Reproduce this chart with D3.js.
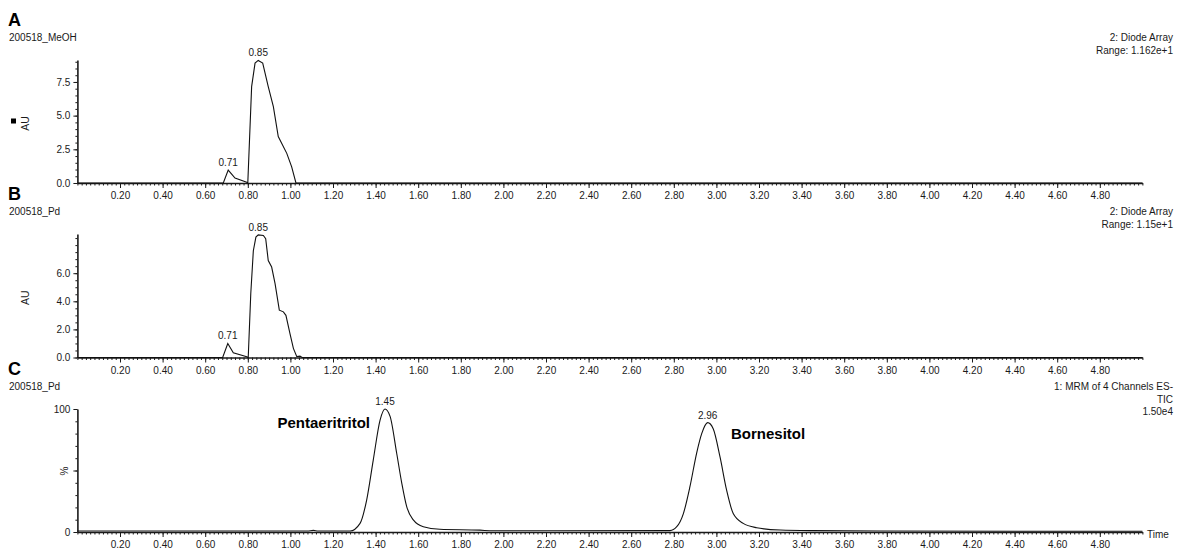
<!DOCTYPE html>
<html>
<head>
<meta charset="utf-8">
<script src="https://cdn.jsdelivr.net/npm/d3@7"></script>
<style>
  body { margin: 0; background: #fff; }
  svg { font-family: 'Liberation Sans', Arial, sans-serif; }
</style>
</head>
<body>
<svg id="chart" width="1180" height="554"></svg>
<script>
// retention times (min) and intensities
const timesA = [0, 0.685, 0.708, 0.740, 0.795, 0.800, 0.818, 0.834, 0.849, 0.870, 0.896, 0.920, 0.943, 0.983, 1.006, 1.026, 5.0];
const valuesA = [0, 0, 0.96, 0.37, 0.05, 0, 7.15, 8.9, 9.1, 8.9, 7.15, 5.67, 3.45, 2.2, 1.2, 0, 0];

const timesB = [0, 0.682, 0.706, 0.732, 0.795, 0.802, 0.814, 0.826, 0.838, 0.849, 0.873, 0.884, 0.896, 0.912, 0.928, 0.948, 0.967, 0.979, 0.998, 1.014, 1.030, 1.045, 1.055, 5.0];
const valuesB = [0, 0, 1.0, 0.34, 0.06, 0, 4.55, 7.6, 8.57, 8.73, 8.69, 8.45, 6.9, 6.44, 5.26, 3.37, 3.25, 3.0, 1.7, 0.65, 0.06, 0.1, 0, 0];

const timesC = [0, 1.08, 1.108, 1.13, 1.28, 1.327, 1.358, 1.389, 1.421, 1.444, 1.468, 1.499, 1.523, 1.546, 1.577, 1.624, 1.702, 1.89, 1.95,
  2.782, 2.814, 2.845, 2.876, 2.907, 2.931, 2.959, 2.985, 3.017, 3.048, 3.079, 3.126, 3.189, 3.30, 3.45, 3.77, 5.0];
const valuesC = [0.8, 0.8, 1.3, 0.8, 0.8, 7, 26, 58.5, 91, 100, 94, 64, 39.6, 20.6, 9.8, 4.3, 2.2, 1.5, 1.0,
  1.1, 4.3, 15, 37, 64, 80, 88.9, 84, 61, 34, 15, 7, 3.5, 1.6, 1.1, 0.8, 0.6];

const xTickValues = [0.2, 0.4, 0.6, 0.8, 1.0, 1.2, 1.4, 1.6, 1.8, 2.0, 2.2, 2.4, 2.6, 2.8, 3.0, 3.2, 3.4, 3.6, 3.8, 4.0, 4.2, 4.4, 4.6, 4.8];
const yTicksA = [0, 2.5, 5.0, 7.5];
const yTicksB = [0, 2, 4, 6];
const yTicksC = [0, 50, 100];

const peaksA = [{t: 0.708, v: 0.96, label: '0.71'}, {t: 0.849, v: 9.1, label: '0.85'}];
const peaksB = [{t: 0.706, v: 1.0, label: '0.71'}, {t: 0.849, v: 8.73, label: '0.85'}];
const peaksC = [{t: 1.444, v: 100, label: '1.45'}, {t: 2.959, v: 88.9, label: '2.96'}];

const panels = [
  {letter: 'A', sample: '200518_MeOH', info: ['2: Diode Array', 'Range: 1.162e+1'], yLabel: 'AU', square: true,
   times: timesA, values: valuesA, peaks: peaksA, yMax: 9.13, yTicks: yTicksA, yMinor: 0.5, fmt: '.1f',
   top: 60, bottom: 183, curve: d3.curveLinear},
  {letter: 'B', sample: '200518_Pd', info: ['2: Diode Array', 'Range: 1.15e+1'], yLabel: 'AU', square: false,
   times: timesB, values: valuesB, peaks: peaksB, yMax: 8.79, yTicks: yTicksB, yMinor: 0.5, fmt: '.1f',
   top: 234, bottom: 357.5, curve: d3.curveLinear},
  {letter: 'C', sample: '200518_Pd', info: ['1: MRM of 4 Channels ES-', 'TIC', '1.50e4'], yLabel: '%', square: false,
   times: timesC, values: valuesC, peaks: peaksC, yMax: 100, yTicks: yTicksC, yMinor: 10, fmt: 'd',
   top: 409, bottom: 532, curve: d3.curveMonotoneX}
];

const svg = d3.select('#chart');
const ink = '#1a1a1a';

const x = d3.scaleLinear().domain([0, 5.0]).range([77.4, 1142.4]);

panels.forEach(p => {
  const y = d3.scaleLinear().domain([0, p.yMax]).range([p.bottom, p.top]);
  const g = svg.append('g');

  // panel letter + sample name
  g.append('text')
    .attr('x', 8).attr('y', p.top - 34)
    .style('font-size', '18px').style('font-weight', 'bold')
    .attr('fill', '#000')
    .text(p.letter);

  g.append('text')
    .attr('x', 9).attr('y', p.top - 19)
    .style('font-size', '10px')
    .attr('fill', ink)
    .text(p.sample);

  // right-hand info block
  p.info.forEach((s, i) => {
    g.append('text')
      .attr('x', 1173).attr('y', p.top - 19 + i * 12.5)
      .attr('text-anchor', 'end')
      .style('font-size', '10px')
      .attr('fill', ink)
      .text(s);
  });

  // x axis: minor ticks then major ticks
  const minor = d3.range(0, 5.001, 0.02);
  const xMinor = g.append('g')
    .attr('transform', `translate(0, ${p.bottom})`)
    .call(d3.axisBottom(x).tickValues(minor).tickSize(2.5).tickFormat(''));
  xMinor.select('.domain').remove();
  xMinor.selectAll('line').attr('stroke', ink);

  const xMajor = g.append('g')
    .attr('transform', `translate(0, ${p.bottom})`)
    .call(d3.axisBottom(x).tickValues(xTickValues).tickSize(5).tickSizeOuter(0).tickFormat(d3.format('.2f')));
  xMajor.select('.domain').attr('stroke', ink).attr('stroke-width', 1.6);
  xMajor.selectAll('line').attr('stroke', ink);
  xMajor.selectAll('text')
    .attr('dy', null).attr('y', 16)
    .style('font-size', '10px').style('font-family', "'Liberation Sans', Arial, sans-serif")
    .attr('fill', ink);

  // y axis
  const yMinorVals = d3.range(0, p.yMax + 1e-6, p.yMinor);
  const yMin = g.append('g')
    .attr('transform', 'translate(77.4, 0)')
    .call(d3.axisLeft(y).tickValues(yMinorVals).tickSize(2).tickFormat(''));
  yMin.select('.domain').remove();
  yMin.selectAll('line').attr('stroke', ink);

  const yAx = g.append('g')
    .attr('transform', 'translate(77.4, 0)')
    .call(d3.axisLeft(y).tickValues(p.yTicks).tickSize(4).tickSizeOuter(0).tickFormat(d3.format(p.fmt)));
  yAx.select('.domain').attr('stroke', ink).attr('stroke-width', 1.6);
  yAx.selectAll('line').attr('stroke', ink);
  yAx.selectAll('text')
    .style('font-size', '10px').style('font-family', "'Liberation Sans', Arial, sans-serif")
    .attr('fill', ink);

  if (p.letter === 'C') {
    // % label sits on the middle tick
    yAx.selectAll('.tick text')
      .filter(d => d === 50)
      .text('%')
      .attr('x', 0).attr('y', 0).attr('dy', null)
      .attr('text-anchor', 'middle')
      .attr('transform', 'translate(-9, 0) rotate(-90)');
    g.append('text')
      .attr('x', 1147).attr('y', p.bottom + 6)
      .style('font-size', '10px')
      .attr('fill', ink)
      .text('Time');
  } else {
    const cy = (p.top + p.bottom) / 2 + 2;
    g.append('text')
      .attr('transform', `translate(29, ${cy}) rotate(-90)`)
      .attr('text-anchor', 'middle')
      .style('font-size', '10.5px')
      .attr('fill', ink)
      .text(p.yLabel);
    if (p.square) {
      g.append('rect')
        .attr('x', 11).attr('y', cy - 5)
        .attr('width', 5).attr('height', 5)
        .attr('fill', '#000');
    }
  }

  // trace
  const pts = p.times.map((t, i) => ({t: t, v: p.values[i]}));
  const line = d3.line()
    .x(d => x(d.t))
    .y(d => y(d.v))
    .curve(p.curve);
  g.append('path')
    .datum(pts)
    .attr('d', line)
    .attr('fill', 'none')
    .attr('stroke', '#111')
    .attr('stroke-width', 1.1);

  // peak labels
  g.selectAll('.peak')
    .data(p.peaks)
    .enter()
    .append('text')
    .attr('x', d => x(d.t))
    .attr('y', d => y(d.v) - 4)
    .attr('text-anchor', 'middle')
    .style('font-size', '10px')
    .attr('fill', ink)
    .text(d => d.label);
});

// compound names on panel C
svg.append('text')
  .attr('x', 370).attr('y', 428)
  .attr('text-anchor', 'end')
  .style('font-size', '15px').style('font-weight', 'bold')
  .text('Pentaeritritol');

svg.append('text')
  .attr('x', 731).attr('y', 439)
  .style('font-size', '15px').style('font-weight', 'bold')
  .text('Bornesitol');
</script>
</body>
</html>
